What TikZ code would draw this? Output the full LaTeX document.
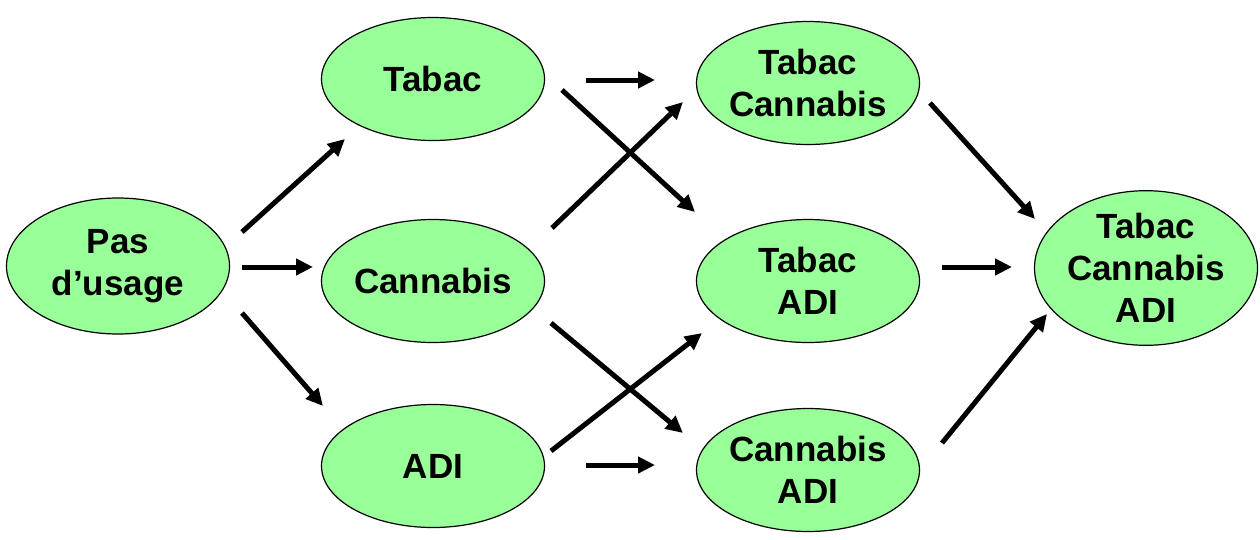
\documentclass[tikz,border=0pt]{standalone}
\usepackage{fontspec}
\setmainfont{Liberation Sans}
\usetikzlibrary{shapes.geometric,arrows.meta}
\begin{document}
\begin{tikzpicture}[x=1pt,y=-1pt,
  state/.style={ellipse,draw=black,line width=1.2pt,fill={rgb,255:red,153;green,255;blue,153},
    inner sep=0pt,minimum width=223pt,minimum height=123pt,align=center,
    font=\fontsize{35}{42}\selectfont\bfseries},
  big/.style={minimum height=136pt},
  arr/.style={line width=5pt,-{Triangle[length=17pt,width=16pt]}}]
\useasboundingbox (0,0) rectangle (1260,539);
\node[state,big] (pas) at (118,266) {Pas\\d’usage};
\node[state] (tab) at (433,79) {Tabac};
\node[state] (can) at (433,281) {Cannabis};
\node[state] (adi) at (433,466) {ADI};
\node[state] (tc) at (808,83) {Tabac\\Cannabis};
\node[state] (ta) at (808,281) {Tabac\\ADI};
\node[state] (ca) at (808,470) {Cannabis\\ADI};
\node[state,big] (tca) at (1146,268) {Tabac\\Cannabis\\ADI};
% arrow end points (arrows float between the ellipses)
\coordinate (a1s) at (242,232); \coordinate (a1e) at (345,139);
\coordinate (a2s) at (242,267); \coordinate (a2e) at (313,267);
\coordinate (a3s) at (242,313); \coordinate (a3e) at (323,406);
\coordinate (a4s) at (586,80);  \coordinate (a4e) at (655,80);
\coordinate (a5s) at (562,90);  \coordinate (a5e) at (695,212);
\coordinate (a6s) at (552,228); \coordinate (a6e) at (683,102);
\coordinate (a7s) at (551,323); \coordinate (a7e) at (683,433);
\coordinate (a8s) at (551,451); \coordinate (a8e) at (702,333);
\coordinate (a9s) at (586,465); \coordinate (a9e) at (655,465);
\coordinate (a10s) at (930,103); \coordinate (a10e) at (1035,219);
\coordinate (a11s) at (942,267); \coordinate (a11e) at (1012,267);
\coordinate (a12s) at (942,443); \coordinate (a12e) at (1047,314);
\foreach \i in {1,...,12} {\draw[arr] (a\i s) -- (a\i e);}
\end{tikzpicture}
\end{document}
